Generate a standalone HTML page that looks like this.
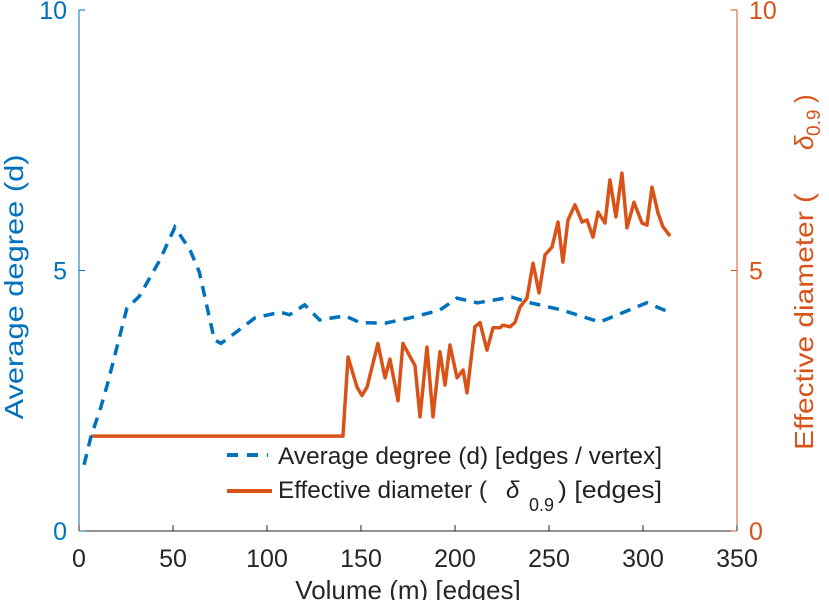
<!DOCTYPE html>
<html><head><meta charset="utf-8"><style>
body{margin:0;background:#fff;}
svg{display:block;font-family:"Liberation Sans",sans-serif;}
</style></head><body>
<svg id="chart" width="829" height="600" viewBox="0 0 829 600">
<g id="axes"></g>
<g id="series"></g>
<g id="legend">
<line x1="227" y1="455" x2="268" y2="455" stroke="#0072BD" stroke-width="4" stroke-dasharray="11,9"/>
<text x="278" y="464" font-size="24" fill="#222" textLength="384" lengthAdjust="spacingAndGlyphs">Average degree (d) [edges / vertex]</text>
<line x1="227" y1="491" x2="272" y2="491" stroke="#D95319" stroke-width="4"/>
<text font-size="24" fill="#222"><tspan x="278" y="498" textLength="209" lengthAdjust="spacingAndGlyphs">Effective diameter (</tspan><tspan x="506" y="498" font-style="italic">δ</tspan><tspan x="529" y="511" font-size="18">0.9</tspan><tspan x="558" y="498" textLength="104" lengthAdjust="spacingAndGlyphs">) [edges]</tspan></text>
</g>
</svg>
<script>
const xTicks=[0,50,100,150,200,250,300,350];
const yTicks=[0,5,10];
const degX=[2.7,6.4,11,15,25.5,32,43,51,59,64,72,75.5,83,93.6,107,112,120,128,141.5,149.5,163,176,192,201,212,230,240,257,277,302,314];
const degY=[1.27,1.82,2.3,2.8,4.28,4.5,5.2,5.83,5.4,4.97,3.67,3.6,3.8,4.09,4.2,4.15,4.34,4.05,4.13,4.0,3.99,4.09,4.24,4.47,4.38,4.49,4.38,4.24,4.01,4.38,4.2];
const diaX=[6.4,140.4,143.1,147.9,150.5,153.2,159,162.8,165.4,169.7,172.3,177.1,178.7,181.4,185.1,188.3,192,194.7,197.3,201.1,204.3,206.4,210.6,213.3,217,220.2,223.9,225.5,229.3,231.9,234.6,238.3,241.5,244.7,247.9,251.6,254.8,257.4,260.1,263.8,267.6,270.2,273.4,276.1,279.8,282.4,285.6,288.8,291.5,295.2,299.5,302.1,304.8,308,310.6,314.4];
const diaY=[1.82,1.82,3.34,2.76,2.6,2.76,3.6,2.94,3.3,2.5,3.6,3.28,3.18,2.19,3.53,2.19,3.44,2.8,3.57,2.94,3.09,2.65,3.92,4.0,3.47,3.9,3.9,3.95,3.92,4.0,4.3,4.47,5.14,4.57,5.3,5.45,5.93,5.16,5.97,6.26,5.93,5.97,5.64,6.12,5.91,6.74,6.03,6.87,5.82,6.31,5.91,5.87,6.6,6.1,5.84,5.66];
const X0=79,X1=737,Y0=531,Y1=10;
const sx=v=>X0+(X1-X0)*v/350;
const sy=v=>Y0-(Y0-Y1)*v/10;
const NS="http://www.w3.org/2000/svg";
function mk(tag,attrs,parent){const e=document.createElementNS(NS,tag);for(const k in attrs)e.setAttribute(k,attrs[k]);parent.appendChild(e);return e;}
const axes=document.getElementById('axes');
let e;
e=mk('line',{x1:X0,y1:Y0,x2:X1,y2:Y0,stroke:'#262626','stroke-width':1},axes);


e=mk('line',{x1:X0,y1:Y0,x2:X0,y2:Y1,stroke:'#0072BD','stroke-width':1},axes);


e=mk('line',{x1:X1,y1:Y0,x2:X1,y2:Y1,stroke:'#D95319','stroke-width':1},axes);


xTicks.forEach(t=>{
 e=mk('line',{x1:sx(t),y1:Y0,x2:sx(t),y2:Y0-6,stroke:'#262626'},axes);
 
 
 e=mk('text',{x:sx(t),y:567,'text-anchor':'middle','font-size':25,fill:'#262626'},axes);
 e.textContent=t;
 
 
});
yTicks.forEach(t=>{
 e=mk('line',{x1:X0,y1:sy(t),x2:X0+6,y2:sy(t),stroke:'#0072BD'},axes);
 
 
 e=mk('text',{x:X0-12,y:sy(t)+9,'text-anchor':'end','font-size':25,fill:'#0072BD'},axes);
 e.textContent=t;
 
 
 e=mk('line',{x1:X1,y1:sy(t),x2:X1-6,y2:sy(t),stroke:'#D95319'},axes);
 
 
 e=mk('text',{x:X1+12,y:sy(t)+9,'text-anchor':'start','font-size':25,fill:'#D95319'},axes);
 e.textContent=t;
 
 
});
e=mk('text',{x:(X0+X1)/2,y:599,'text-anchor':'middle','font-size':26,fill:'#262626'},axes);
e.textContent='Volume (m) [edges]';


e=mk('text',{x:0,y:0,'text-anchor':'middle','font-size':26,fill:'#0072BD',transform:'translate(23,287) rotate(-90)',textLength:265,lengthAdjust:'spacingAndGlyphs'},axes);
e.textContent='Average degree (d)';


e=mk('text',{x:0,y:0,'font-size':26,fill:'#D95319',transform:'translate(813,450) rotate(-90)'},axes);
e.innerHTML='<tspan x="0" y="0" textLength="257" lengthAdjust="spacingAndGlyphs">Effective diameter (</tspan><tspan x="300" y="0" font-style="italic">δ</tspan><tspan x="314" y="7" font-size="19">0.9</tspan><tspan x="347" y="0">)</tspan>';


const series=document.getElementById('series');
e=mk('polyline',{points:diaX.map((x,i)=>sx(x)+','+sy(diaY[i])).join(' '),fill:'none',stroke:'#D95319','stroke-width':3.5,'stroke-linejoin':'round'},series);


e=mk('polyline',{points:degX.map((x,i)=>sx(x)+','+sy(degY[i])).join(' '),fill:'none',stroke:'#0072BD','stroke-width':3.5,'stroke-dasharray':'11,8'},series);


</script>
</body></html>
